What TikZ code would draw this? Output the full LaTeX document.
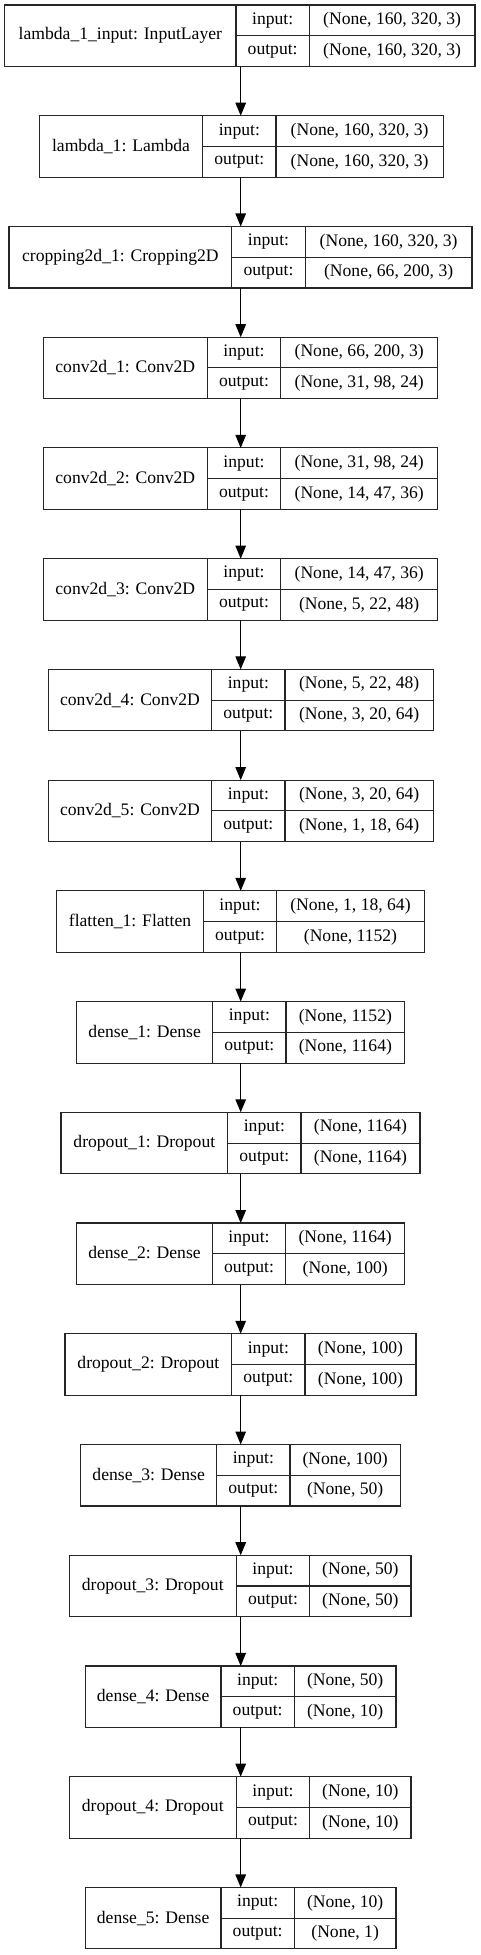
\documentclass[tikz,border=0pt]{standalone}
\usepackage{fontspec}
\setmainfont{Liberation Serif}
\usetikzlibrary{arrows.meta}
\tikzset{
  cell/.style={draw=black!85, line width=1.1pt, inner sep=0pt, outer sep=0pt, anchor=north west,
    font=\fontsize{17.6}{20}\selectfont},
  arr/.style={draw=black, line width=1.2pt, -{Triangle[length=13pt,width=10.5pt]}}
}
\newcommand{\layer}[8]{%
  \pgfmathsetmacro{\ltop}{5+110.73*#1}%
  \pgfmathsetmacro{\lmid}{\ltop+30.75}%
  \pgfmathsetmacro{\wa}{#3-#2}%
  \pgfmathsetmacro{\wb}{#4-#3}%
  \pgfmathsetmacro{\wc}{#5-#4}%
  \node[cell, minimum width=\wa pt, minimum height=61.5pt] (n#1) at (#2,\ltop) {#6};
  \node[cell, minimum width=\wb pt, minimum height=30.75pt] (i#1) at (#3,\ltop) {input:};
  \node[cell, minimum width=\wb pt, minimum height=30.75pt] (o#1) at (#3,\lmid) {output:};
  \node[cell, minimum width=\wc pt, minimum height=30.75pt] (vi#1) at (#4,\ltop) {#7};
  \node[cell, minimum width=\wc pt, minimum height=30.75pt] (vo#1) at (#4,\lmid) {#8};
}
\begin{document}
\begin{tikzpicture}[x=1pt,y=-1pt]
\useasboundingbox (0,0) rectangle (481,1955);
\coordinate (ax) at (240.7,0);
\layer{0}{4.7}{236}{309.3}{475}{lambda\_1\_input: InputLayer}{(None, 160, 320, 3)}{(None, 160, 320, 3)}
\layer{1}{39.3}{202.7}{276}{443.3}{lambda\_1: Lambda}{(None, 160, 320, 3)}{(None, 160, 320, 3)}
\layer{2}{9}{231.7}{305.3}{472}{cropping2d\_1: Cropping2D}{(None, 160, 320, 3)}{(None, 66, 200, 3)}
\layer{3}{43.3}{207.3}{280.7}{437.7}{conv2d\_1: Conv2D}{(None, 66, 200, 3)}{(None, 31, 98, 24)}
\layer{4}{43.3}{207.3}{280.7}{437.7}{conv2d\_2: Conv2D}{(None, 31, 98, 24)}{(None, 14, 47, 36)}
\layer{5}{43.3}{207.3}{280.7}{437.7}{conv2d\_3: Conv2D}{(None, 14, 47, 36)}{(None, 5, 22, 48)}
\layer{6}{48.3}{211.7}{285}{433.3}{conv2d\_4: Conv2D}{(None, 5, 22, 48)}{(None, 3, 20, 64)}
\layer{7}{48.3}{211.7}{285}{433.3}{conv2d\_5: Conv2D}{(None, 3, 20, 64)}{(None, 1, 18, 64)}
\layer{8}{56.7}{203.3}{276.7}{424.3}{flatten\_1: Flatten}{(None, 1, 18, 64)}{(None, 1152)}
\layer{9}{76.7}{212.7}{286}{404.7}{dense\_1: Dense}{(None, 1152)}{(None, 1164)}
\layer{10}{61}{227.7}{301}{420}{dropout\_1: Dropout}{(None, 1164)}{(None, 1164)}
\layer{11}{76.7}{212.3}{285.7}{404.7}{dense\_2: Dense}{(None, 1164)}{(None, 100)}
\layer{12}{65}{231.7}{305}{416}{dropout\_2: Dropout}{(None, 100)}{(None, 100)}
\layer{13}{80.7}{216.7}{290}{400.3}{dense\_3: Dense}{(None, 100)}{(None, 50)}
\layer{14}{69.3}{236.3}{309.7}{411}{dropout\_3: Dropout}{(None, 50)}{(None, 50)}
\layer{15}{85.3}{221}{294.3}{396}{dense\_4: Dense}{(None, 50)}{(None, 10)}
\layer{16}{69.3}{236.3}{309.7}{411}{dropout\_4: Dropout}{(None, 10)}{(None, 10)}
\layer{17}{85.3}{221}{294.3}{396}{dense\_5: Dense}{(None, 10)}{(None, 1)}
\foreach \a [evaluate=\a as \b using int(\a+1)] in {0,...,16}{
  \draw[arr] (n\a.south -| ax) -- (n\b.north -| ax);
}
\end{tikzpicture}
\end{document}
